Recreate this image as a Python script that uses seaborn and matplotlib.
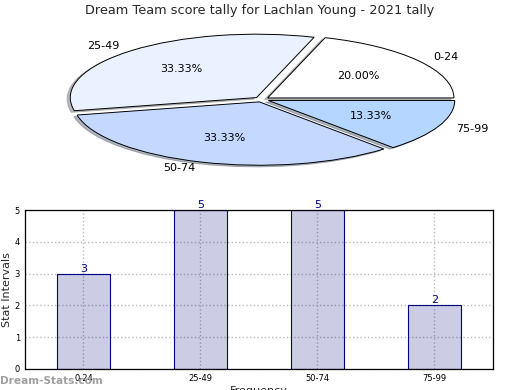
import matplotlib
matplotlib.use("Agg")
import matplotlib.pyplot as plt
import seaborn as sns
import pandas as pd

categories = ["0-24", "25-49", "50-74", "75-99"]
counts = [3, 5, 5, 2]
pie_colors = ["#FFFFFF", "#EBF2FF", "#C5D8FF", "#B5D6FF"]
title = "Dream Team score tally for Lachlan Young - 2021 tally"

sns.set_style("white")
plt.rcParams['font.family'] = ['DejaVu Sans']

fig = plt.figure(figsize=(5.2, 3.9), dpi=100)

# Pie
axp = fig.add_axes([0.073, 0.55, 0.86, 0.39])
axp.pie(counts, labels=categories, colors=pie_colors, explode=[0.04] * 4,
        autopct='%1.2f%%', shadow={'ox': -0.012, 'oy': -0.018, 'shade': 0.5},
        startangle=0,
        wedgeprops=dict(edgecolor='black', linewidth=0.7),
        textprops=dict(fontsize=8, color='black'))
axp.set_aspect('auto')
axp.set_xlim(-1.2, 1.2)
axp.set_ylim(-1.2, 1.2)
fig.text(0.5, 0.973, title, ha='center', va='center', fontsize=9.3)

# Bar chart
axb = fig.add_axes([0.048, 0.054, 0.9, 0.4075])
df = pd.DataFrame({"cat": categories, "val": counts})
sns.barplot(data=df, x="cat", y="val", ax=axb, color="#000080",
            edgecolor="#000080", linewidth=0.8, width=0.45, saturation=1)
for p in axb.patches:
    p.set_facecolor((0, 0, 0.5, 0.2))
    p.set_edgecolor("#000080")
for i, v in enumerate(counts):
    axb.text(i, v, str(v), ha='center', va='bottom', color='#000080', fontsize=8)
axb.set_xlim(-0.5, 3.5)
axb.set_ylim(0, 5)
axb.set_yticks(range(0, 6))
axb.grid(True, linestyle=':', color='#BBBBBB', linewidth=1)
axb.set_axisbelow(True)
axb.tick_params(axis='both', labelsize=6, direction='in', length=3, colors='black')
for s in axb.spines.values():
    s.set_color('black')
    s.set_linewidth(0.9)
    s.set_zorder(5)
axb.set_ylabel("Stat Intervals", fontsize=8, labelpad=2)
axb.set_xlabel("Frequency", fontsize=8, labelpad=2)
fig.text(0.0, 0.023, "Dream-Stats.com", ha='left', va='center', fontsize=7.6,
         color='#A0A0A0', fontweight='bold')

fig.savefig("out.png", dpi=100)
